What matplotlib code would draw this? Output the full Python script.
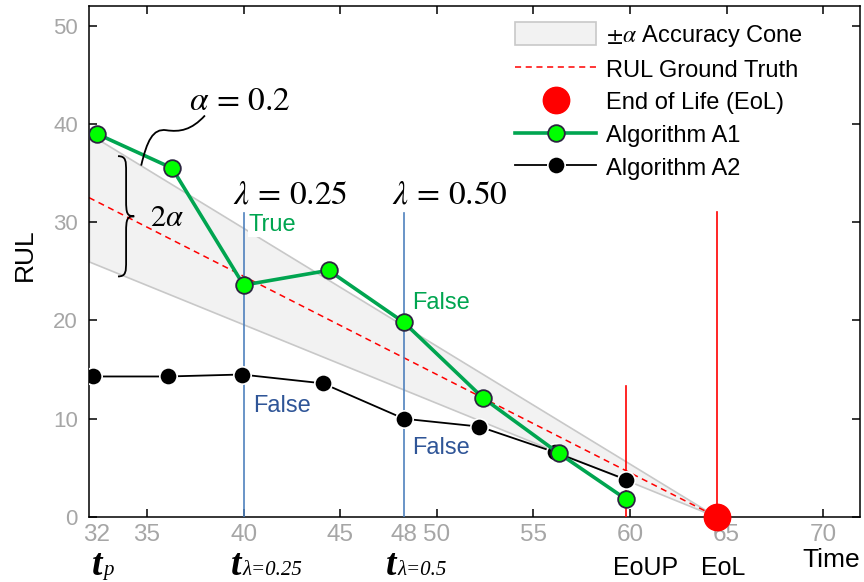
import matplotlib
matplotlib.use('Agg')
import matplotlib.pyplot as plt
from matplotlib.path import Path
import matplotlib.patches as patches
import matplotlib.transforms as mtransforms
import numpy as np

plt.rcParams['font.family'] = ['Liberation Sans', 'DejaVu Sans']
plt.rcParams['mathtext.fontset'] = 'stix'

# prediction times and RUL estimates of both algorithms
a1_time = [32.4, 36.3, 40.0, 44.4, 48.3, 52.4, 56.3, 59.8]
a1_rul = [39.0, 35.5, 23.6, 25.1, 19.8, 12.1, 6.5, 1.8]
a2_time = [32.2, 36.1, 39.9, 44.1, 48.3, 52.2, 56.1, 59.8]
a2_rul = [14.3, 14.3, 14.5, 13.6, 10.0, 9.2, 6.6, 3.8]

T_P = 32.4
EOL = 64.5
EOUP = 59.8
ALPHA = 0.2
T_LAMBDA = [40.0, 48.3]
LAMBDA_NAMES = ['0.25', '0.50']
LAMBDA_SUBS = ['0.25', '0.5']

x_ticks = [35, 40, 45, 50, 55, 60, 65, 70]
y_ticks = [0, 10, 20, 30, 40, 50]

GRAY_TXT = '#a6a6a6'
GREEN = '#00a550'
BLUE_TXT = '#2f5597'
SERIF = ['Liberation Serif', 'DejaVu Serif']

fig = plt.figure(figsize=(8.64, 5.82), dpi=100)
ax = fig.add_axes([89 / 864, 65 / 582, 771 / 864, 511 / 582])

# ground truth and accuracy cone
t_gt = np.linspace(32, EOL, 50)
rul_gt = EOL - t_gt
cone = ax.fill_between(t_gt, (1 - ALPHA) * rul_gt, (1 + ALPHA) * rul_gt,
                       facecolor='#f2f2f2', edgecolor='#c8c8c8', lw=1.2, zorder=1)
gt_line, = ax.plot(t_gt, rul_gt, color='red', ls=(0, (4, 3)), lw=1.1, zorder=2)

# lambda = 0.25 / 0.5 time instants
for t in T_LAMBDA:
    ax.plot([t, t], [0, 30.9], color='#4f81bd', lw=1.2, zorder=3)

# EoUP and EoL markers
ax.plot([EOUP, EOUP], [0, 13.3], color='red', lw=1.2, zorder=3)
ax.plot([EOL, EOL], [0, 31.0], color='red', lw=1.2, zorder=3)

a2_line, = ax.plot(a2_time, a2_rul, color='black', lw=1.3, marker='o', ms=12.5,
                   mfc='black', mec='white', mew=1.2, zorder=4)
a1_line, = ax.plot(a1_time, a1_rul, color=GREEN, lw=2.6, marker='o', ms=12,
                   mfc='#00ff00', mec='#2b2540', mew=1.3, zorder=5)
eol_dot, = ax.plot([EOL], [0], 'o', color='red', ms=19, zorder=6, clip_on=False)

ax.set_xlim(32, 71.9)
ax.set_ylim(0, 52)

ax.set_xticks(x_ticks)
ax.set_xticks([T_P, T_LAMBDA[1]], ['32', '48'], minor=True)
ax.set_yticks(y_ticks)
ax.tick_params(which='both', direction='in', top=True, right=True, length=6, width=1.1,
               colors='black', labelcolor=GRAY_TXT)
ax.tick_params(axis='y', labelsize=16, pad=8)
ax.tick_params(axis='x', which='both', labelsize=17.5, pad=5)
ax.tick_params(axis='x', which='minor', length=0)
for lab in ax.get_xticklabels(which='both'):
    lab.set_family(['Liberation Sans Narrow', 'Liberation Sans'])
for sp in ax.spines.values():
    sp.set_linewidth(1.1)

fig.text(25 / 864, 1 - 255 / 582, 'RUL', rotation=90, ha='center', va='center', fontsize=19)

# labels under the time axis: big italic t with a small italic subscript
bx = mtransforms.blended_transform_factory(ax.transData, ax.transAxes)
y_base = (517 - 575) / 511
sym_pos = [T_P + 0.3, T_LAMBDA[0] - 0.1, T_LAMBDA[1] - 0.4]
sym_subs = ['p'] + ['\u03bb=' + s for s in LAMBDA_SUBS]
for x, s in zip(sym_pos, sym_subs):
    ax.text(x, y_base, 't', transform=bx, ha='right', va='baseline', fontsize=27,
            family=SERIF, style='italic', weight='bold')
    ax.text(x + 0.05, y_base, s, transform=bx, ha='left', va='baseline', fontsize=15,
            family=SERIF, style='italic')
ax.text(EOUP + 1.0, (517 - 568) / 511, 'EoUP', transform=bx, ha='center', va='center', fontsize=18)
ax.text(EOL + 0.3, (517 - 568) / 511, 'EoL', transform=bx, ha='center', va='center', fontsize=18)
ax.text(71.9, (517 - 560) / 511, 'Time', transform=bx, ha='right', va='center', fontsize=19)

# lambda labels above the vertical lines
for t, s in zip(T_LAMBDA, LAMBDA_NAMES):
    ax.text(t + 2.4, 32.8, r'$\lambda\,=\,%s$' % s, ha='center', va='center', fontsize=24)

ax.text(T_LAMBDA[0] + 0.25, 29.7, 'True', color=GREEN, fontsize=17, va='center',
        bbox=dict(facecolor='white', edgecolor='none', pad=0.5), zorder=3)
ax.text(T_LAMBDA[1] + 0.4, 21.8, 'False', color=GREEN, fontsize=17, va='center', zorder=3)
ax.text(T_LAMBDA[0] + 0.5, 11.3, 'False', color=BLUE_TXT, fontsize=17, va='center', zorder=3)
ax.text(T_LAMBDA[1] + 0.4, 7.0, 'False', color=BLUE_TXT, fontsize=17, va='center', zorder=3)

# curly brace showing the 2*alpha width of the cone
tb = 33.5
hi = (1 + ALPHA) * (EOL - tb - 0.4)
lo = (1 - ALPHA) * (EOL - tb - 0.4)
mid = (hi + lo) / 2
xm, xt = tb + 0.42, tb + 0.84
br = [(tb, hi), (xm, hi), (xm, hi - 0.5), (xm, hi - 1.6),
      (xm, mid + 1.6),
      (xm, mid + 0.3), (xm + 0.05, mid), (xt, mid),
      (xm + 0.05, mid), (xm, mid - 0.3), (xm, mid - 1.6),
      (xm, lo + 1.6),
      (xm, lo + 0.5), (xm, lo), (tb, lo)]
codes = [Path.MOVETO, Path.CURVE4, Path.CURVE4, Path.CURVE4,
         Path.LINETO,
         Path.CURVE4, Path.CURVE4, Path.CURVE4,
         Path.CURVE4, Path.CURVE4, Path.CURVE4,
         Path.LINETO,
         Path.CURVE4, Path.CURVE4, Path.CURVE4]
ax.add_patch(patches.PathPatch(Path(br, codes), fill=False, lw=1.3, color='black', zorder=6))
ax.text(xt + 0.8, mid - 0.2, r'$2\alpha$', ha='left', va='center', fontsize=22)

# wavy leader from the cone edge to the alpha label
ts = 34.7
ys = (1 + ALPHA) * (EOL - ts)
wave = [(ts, ys), (ts + 0.3, ys + 2.5), (ts + 0.6, ys + 3.8), (ts + 1.3, ys + 3.6),
        (ts + 2.0, ys + 3.4), (ts + 2.6, ys + 3.6), (ts + 3.3, ys + 5.1)]
wcodes = [Path.MOVETO, Path.CURVE4, Path.CURVE4, Path.CURVE4,
          Path.CURVE4, Path.CURVE4, Path.CURVE4]
ax.add_patch(patches.PathPatch(Path(wave, wcodes), fill=False, lw=1.3, color='black', zorder=6))
ax.text(39.8, 42.3, r'$\alpha\,=\,0.2$', ha='center', va='center', fontsize=24)

leg = ax.legend([cone, gt_line, eol_dot, a1_line, a2_line],
                [r'$\pm\alpha$ Accuracy Cone', 'RUL Ground Truth', 'End of Life (EoL)',
                 'Algorithm A1', 'Algorithm A2'],
                loc='upper left', bbox_to_anchor=(0.553, 0.968), frameon=False,
                fontsize=17, handlelength=3.4, handleheight=1.1, handletextpad=0.45,
                labelspacing=0.36, borderpad=0, borderaxespad=0)

fig.savefig('out.png', dpi=100)
